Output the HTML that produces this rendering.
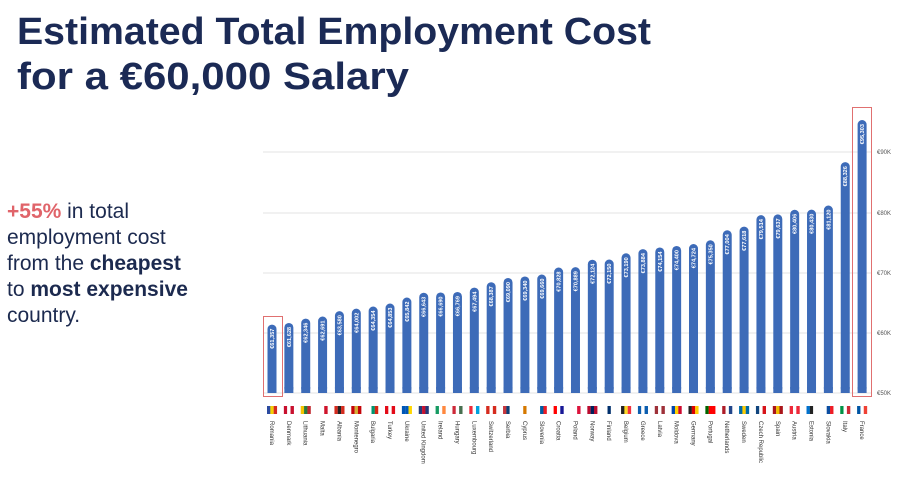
<!DOCTYPE html>
<html><head><meta charset="utf-8"><style>
html,body{margin:0;padding:0;background:#fff;}
body{width:900px;height:478px;overflow:hidden;position:relative;font-family:"Liberation Sans",sans-serif;}
</style></head><body>
<svg id="s" width="900" height="478" xmlns="http://www.w3.org/2000/svg" style="position:absolute;left:0;top:0">
<text x="17" y="44" font-size="38" font-weight="bold" fill="#1b2a55" textLength="634" lengthAdjust="spacingAndGlyphs">Estimated Total Employment Cost</text>
<text x="17" y="89" font-size="38" font-weight="bold" fill="#1b2a55" textLength="392" lengthAdjust="spacingAndGlyphs">for a €60,000 Salary</text>
<g font-size="21" fill="#1c2a4f">
<text x="7" y="218"><tspan fill="#e0646a" font-weight="bold">+55%</tspan> in total</text>
<text x="7" y="244">employment cost</text>
<text x="7" y="270">from the <tspan font-weight="bold">cheapest</tspan></text>
<text x="7" y="296">to <tspan font-weight="bold">most expensive</tspan></text>
<text x="7" y="322">country.</text>
</g>
<g id="g"></g>
</svg>
<script>
var v=[61357,61628,62346,62691,63580,64002,64354,64853,65842,66643,66690,66769,67494,68387,69090,69340,69660,70828,70889,72124,72150,73190,73884,74154,74400,74724,75350,77004,77618,79514,79637,80406,80430,81120,88326,95303];
var n=["Romania","Denmark","Lithuania","Malta","Albania","Montenegro","Bulgaria","Turkey","Ukraine","United Kingdom","Ireland","Hungary","Luxembourg","Switzerland","Serbia","Cyprus","Slovenia","Croatia","Poland","Norway","Finland","Belgium","Greece","Latvia","Moldova","Germany","Portugal","Netherlands","Sweden","Czech Republic","Spain","Austria","Estonia","Slovakia","Italy","France"];
var f=[["#2b4aa0","#f5d000","#d52b1e"],["#c8102e","#fff","#c8102e"],["#f5c400","#2a7a3b","#c1272d"],["#fff","#fff","#cf142b"],["#d52b1e","#222","#d52b1e"],["#c40308","#d4af37","#c40308"],["#fff","#00966e","#d62612"],["#e30a17","#fff","#e30a17"],["#0057b7","#0057b7","#ffd700"],["#223a7a","#c8102e","#223a7a"],["#169b62","#fff","#ff883e"],["#ce2939","#fff","#477050"],["#ed2939","#fff","#00a1de"],["#d52b1e","#fff","#d52b1e"],["#c6363c","#0c4076","#fff"],["#fff","#d57800","#fff"],["#fff","#005da4","#ed1c24"],["#ff0000","#fff","#171796"],["#fff","#fff","#dc143c"],["#ba0c2f","#00205b","#ba0c2f"],["#fff","#002f6c","#fff"],["#222","#fdda24","#ef3340"],["#0d5eaf","#fff","#0d5eaf"],["#9e3039","#fff","#9e3039"],["#0046ae","#ffd200","#cc092f"],["#222","#dd0000","#ffce00"],["#006600","#ff0000","#ff0000"],["#ae1c28","#fff","#21468b"],["#006aa7","#fecc00","#006aa7"],["#11457e","#fff","#d7141a"],["#aa151b","#f1bf00","#aa151b"],["#ed2939","#fff","#ed2939"],["#0072ce","#222","#fff"],["#fff","#0b4ea2","#ee1c25"],["#009246","#fff","#ce2b37"],["#0055a4","#fff","#ef4135"]];
var h='',y0=393,k=0.006025;
[[50,393],[60,333],[70,273],[80,213],[90,152]].forEach(function(t){
 h+='<line x1="263" x2="872" y1="'+t[1]+'" y2="'+t[1]+'" stroke="#e3e3e3" stroke-width="1"/>';
 h+='<text x="877" y="'+(t[1]+2)+'" font-size="6" fill="#555">€'+t[0]+'K</text>';
});
for(var i=0;i<36;i++){
 var cx=272+i*16.86,yt=y0-(v[i]-50000)*k;
 h+='<rect x="'+(cx-4.5)+'" y="'+yt+'" width="9" height="'+(y0-yt)+'" rx="4.5" fill="#3d6bb8"/>';
 h+='<rect x="'+(cx-4.5)+'" y="'+(y0-6)+'" width="9" height="6" fill="#3d6bb8"/>';
 h+='<text transform="translate('+(cx+2)+','+(yt+4)+') rotate(-90)" text-anchor="end" font-size="5.6" font-weight="bold" fill="#fff">€'+v[i].toLocaleString('en-US')+'</text>';
 var c=f[i];
 for(var j=0;j<3;j++)h+='<rect x="'+(cx-5+j*3.33)+'" y="406" width="3.4" height="8" fill="'+c[j]+'"/>';
 h+='<text transform="translate('+(cx-2)+',421) rotate(90)" font-size="6" fill="#333">'+n[i]+'</text>';
}
h+='<rect x="263.5" y="316.5" width="19" height="80" fill="none" stroke="#e07070" stroke-width="1"/>';
h+='<rect x="852.5" y="107.5" width="19" height="289" fill="none" stroke="#e07070" stroke-width="1"/>';
document.getElementById('g').innerHTML=h;
</script>
</body></html>
